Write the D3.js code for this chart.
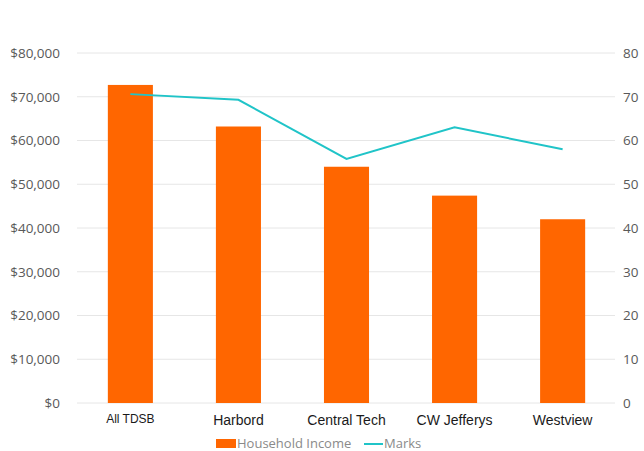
<!DOCTYPE html>
<html><head><meta charset="utf-8">
<script src="https://cdn.jsdelivr.net/npm/d3@7"></script>
<style>body{margin:0;background:#fff}svg{display:block}</style>
</head><body><svg id="c" width="644" height="451"></svg>
<script>
const categories = ["All TDSB","Harbord","Central Tech","CW Jefferys","Westview"];
const income = [72700, 63200, 54000, 47400, 42000];
const marks = [70.6, 69.3, 55.8, 63.0, 58.0];
const leftTicks = [0,10000,20000,30000,40000,50000,60000,70000,80000];
const rightTicks = [0,10,20,30,40,50,60,70,80];

const svg = d3.select("#c");
const x = d3.scaleBand().domain(categories).range([76.5,616.5]).paddingInner(0.583).paddingOuter(0.29);
const yL = d3.scaleLinear().domain([0,80000]).range([403,53]);
const yR = d3.scaleLinear().domain([0,80]).range([403,53]);

// gridlines
svg.append("g").selectAll("line").data(leftTicks).join("line")
  .attr("x1",77).attr("x2",615).attr("y1",d=>yL(d)).attr("y2",d=>yL(d))
  .attr("stroke","#e6e6e6").attr("stroke-width",1);

// left axis
const axL = d3.axisLeft(yL).tickValues(leftTicks).tickSize(0).tickPadding(0)
  .tickFormat(d=>"$"+d3.format(",")(d));
const gL = svg.append("g").attr("transform","translate(60,0)").call(axL);
gL.select(".domain").remove();
gL.selectAll("text").attr("font-family","Open Sans").attr("font-size",13.5).attr("fill","#595959");

// right axis
const axR = d3.axisRight(yR).tickValues(rightTicks).tickSize(0).tickPadding(0);
const gR = svg.append("g").attr("transform","translate(623,0)").call(axR);
gR.select(".domain").remove();
gR.selectAll("text").attr("font-family","Open Sans").attr("font-size",13.5).attr("fill","#595959");

// bars
svg.append("g").selectAll("rect").data(categories).join("rect")
  .attr("x",d=>x(d)).attr("width",x.bandwidth())
  .attr("y",(d,i)=>yL(income[i])).attr("height",(d,i)=>403-yL(income[i]))
  .attr("fill","#ff6600");

// line
const line = d3.line().x((d,i)=>x(categories[i])+x.bandwidth()/2).y(d=>yR(d));
svg.append("path").datum(marks).attr("d",line).attr("fill","none")
  .attr("stroke","#20c4c8").attr("stroke-width",2);

// category labels
const axB = d3.axisBottom(x).tickSize(0).tickPadding(0);
const gB = svg.append("g").attr("transform","translate(0,0)").call(axB);
gB.select(".domain").remove();
gB.selectAll("text").attr("font-family","Liberation Sans, Arial").attr("fill","#1a1a1a")
  .attr("font-size",d=>d==="All TDSB"?12:14)
  .attr("y",d=>d==="All TDSB"?414:415).attr("dy",".71em");

// legend
const lg = svg.append("g");
lg.append("rect").attr("x",216).attr("y",439).attr("width",20).attr("height",9).attr("fill","#ff6600");
lg.append("text").attr("x",237).attr("y",448).text("Household Income")
  .attr("font-family","Open Sans").attr("font-size",13).attr("fill","#8a8a8a");
lg.append("line").attr("x1",364).attr("x2",383).attr("y1",444).attr("y2",444)
  .attr("stroke","#20c4c8").attr("stroke-width",2);
lg.append("text").attr("x",384).attr("y",448).text("Marks")
  .attr("font-family","Open Sans").attr("font-size",13).attr("fill","#8a8a8a");
</script></body></html>
